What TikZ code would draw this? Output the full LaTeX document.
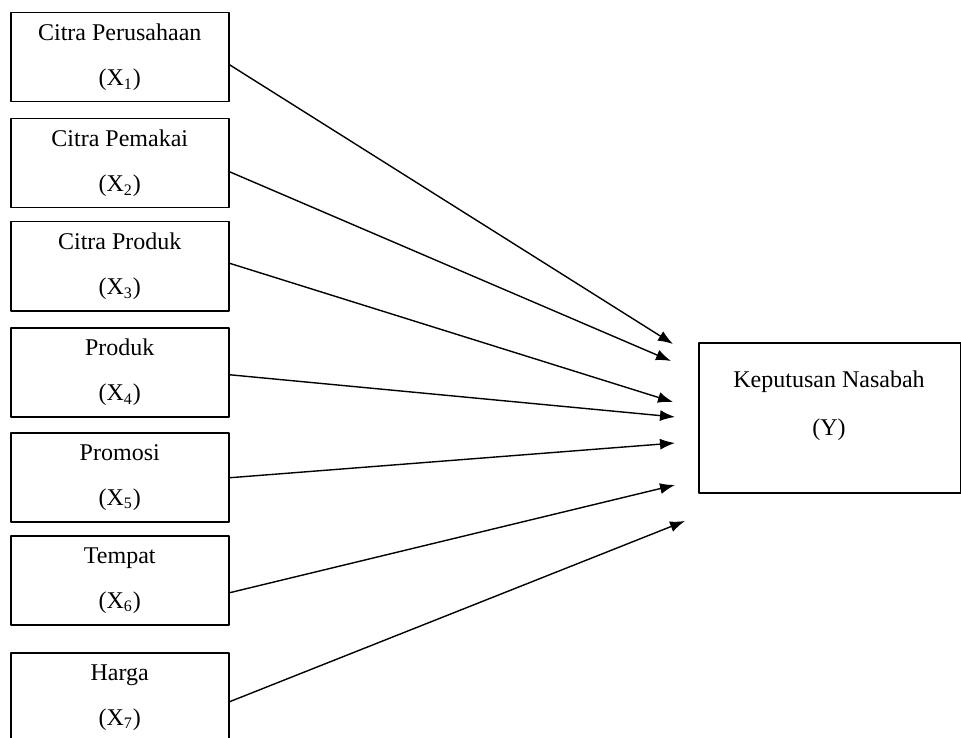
\documentclass[tikz,border=0pt]{standalone}
\usepackage{fontspec}
\setmainfont{Liberation Serif}
\usetikzlibrary{arrows.meta}

\begin{document}
\begin{tikzpicture}[x=0.5pt, y=-0.5pt, font=\fontsize{12}{22.5}\selectfont, line join=round, >={Latex[length=7.5pt,width=5.5pt]},
		varbox/.style={draw, line width=0.75pt, anchor=north west, align=center, minimum width=109pt, minimum height=44.5pt},
		link/.style={->, line width=0.7pt}]
		\useasboundingbox (0,0) rectangle (961,737);
		% variabel bebas
		\foreach \n/\t/\y in {1/Citra Perusahaan/12, 2/Citra Pemakai/118, 3/Citra Produk/221, 4/Produk/327, 5/Promosi/432, 6/Tempat/535, 7/Harga/652}
		\node[varbox] (x\n) at (10,\y) {\t\\(X\textsubscript{\n})};
		% variabel terikat
		\node[draw, line width=0.75pt, anchor=north west, minimum width=131pt, minimum height=75pt] (yb) at (698,342) {};
		\node[font=\fontsize{12}{24}\selectfont, align=center] (yt) at (829,406) {Keputusan Nasabah\\(Y)};
		\foreach \n/\ex/\ey in {1/673/344, 2/671/361, 3/673/402, 4/675/417, 5/675/443, 6/675/485, 7/685/521}
		\coordinate (e\n) at (\ex,\ey);
		\foreach \n/\s in {1/-7.5, 2/-8.5, 3/3, 4/-2.5, 5/-0.5, 6/-12.5, 7/-4.5}
		\draw[link] ([yshift=\s*0.5pt]x\n.east) -- (e\n);
	\end{tikzpicture}
\end{document}
